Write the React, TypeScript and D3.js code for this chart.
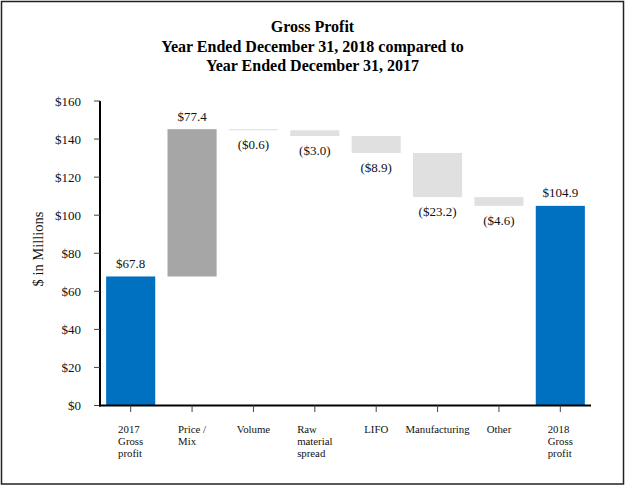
import React, { useEffect, useRef } from 'react';
import * as d3 from 'd3';

// categories (multi-line tick labels) and the step of each bar
const categories: string[][] = [
  ['2017', 'Gross', 'profit'],
  ['Price /', 'Mix'],
  ['Volume'],
  ['Raw', 'material', 'spread'],
  ['LIFO'],
  ['Manufacturing'],
  ['Other'],
  ['2018', 'Gross', 'profit'],
];
const changes: number[] = [67.8, 77.4, -0.6, -3.0, -8.9, -23.2, -4.6, 104.9];
const kinds: string[] = ['total', 'step', 'step', 'step', 'step', 'step', 'step', 'total'];
const valueLabels: string[] = ['$67.8', '$77.4', '($0.6)', '($3.0)', '($8.9)', '($23.2)', '($4.6)', '$104.9'];
const yTicks: number[] = [0, 20, 40, 60, 80, 100, 120, 140, 160];
const titleLines: string[] = [
  'Gross Profit',
  'Year Ended December 31, 2018 compared to',
  'Year Ended December 31, 2017',
];

const FONT = '"Liberation Serif", "Times New Roman", serif';

const App: React.FC = () => {
  const svgRef = useRef<SVGSVGElement>(null);

  useEffect(() => {
    if (!svgRef.current) return;
    const svg = d3.select(svgRef.current);
    svg.selectAll('*').remove();

    const width = 626;
    const height = 486;

    // running totals for the waterfall
    let running = 0;
    const bars = changes.map((v, i) => {
      let lo: number, hi: number;
      if (kinds[i] === 'total') {
        lo = 0;
        hi = v;
        running = v;
      } else {
        const next = running + v;
        lo = Math.min(running, next);
        hi = Math.max(running, next);
        running = next;
      }
      return { i, v, lo, hi, kind: kinds[i], label: valueLabels[i] };
    });

    const x = d3.scaleBand<number>()
      .domain(d3.range(categories.length))
      .range([100, 591])
      .paddingInner(0.2)
      .paddingOuter(0.1);
    const y = d3.scaleLinear().domain([0, 160]).range([405.5, 101]);

    // outer frame
    svg.append('rect')
      .attr('x', 1.5).attr('y', 1.5)
      .attr('width', width - 4).attr('height', height - 3.5)
      .attr('fill', '#fff')
      .attr('stroke', '#222')
      .attr('stroke-width', 1.5);

    // title
    svg.append('g')
      .selectAll('text')
      .data(titleLines)
      .enter()
      .append('text')
      .attr('x', 312.5)
      .attr('y', (_, i) => 32 + i * 19.6)
      .attr('text-anchor', 'middle')
      .attr('font-family', FONT)
      .attr('font-size', 16)
      .attr('font-weight', 'bold')
      .attr('fill', '#000')
      .text(d => d);

    // bars
    const colorOf = (b: { kind: string; v: number }) =>
      b.kind === 'total' ? '#0070C0' : b.v > 0 ? '#A6A6A6' : '#E0E0E0';

    svg.append('g')
      .selectAll('rect')
      .data(bars)
      .enter()
      .append('rect')
      .attr('x', d => x(d.i)!)
      .attr('width', x.bandwidth())
      .attr('y', d => y(d.hi))
      .attr('height', d => Math.max(1, y(d.lo) - y(d.hi)))
      .attr('fill', d => colorOf(d));

    // value labels: positives above, negatives below
    svg.append('g')
      .selectAll('text')
      .data(bars)
      .enter()
      .append('text')
      .attr('x', d => x(d.i)! + x.bandwidth() / 2)
      .attr('y', d => (d.v >= 0 ? y(d.hi) - 8.5 : y(d.lo) + 19))
      .attr('text-anchor', 'middle')
      .attr('font-family', FONT)
      .attr('font-size', 13)
      .attr('fill', '#111')
      .text(d => d.label);

    // y axis
    const yAxis = svg.append('g');
    yAxis.append('line')
      .attr('x1', 100).attr('x2', 100)
      .attr('y1', y(160)).attr('y2', y(0) + 1)
      .attr('stroke', '#000').attr('stroke-width', 2);
    yAxis.selectAll('line.tick')
      .data(yTicks)
      .enter()
      .append('line')
      .attr('class', 'tick')
      .attr('x1', 94).attr('x2', 100)
      .attr('y1', d => y(d)).attr('y2', d => y(d))
      .attr('stroke', '#444').attr('stroke-width', 1);
    yAxis.selectAll('text')
      .data(yTicks)
      .enter()
      .append('text')
      .attr('x', 81)
      .attr('y', d => y(d) + 4.5)
      .attr('text-anchor', 'end')
      .attr('font-family', FONT)
      .attr('font-size', 13)
      .attr('fill', '#111')
      .text(d => `$${d}`);

    svg.append('text')
      .attr('transform', `translate(43,249) rotate(-90)`)
      .attr('text-anchor', 'middle')
      .attr('font-family', FONT)
      .attr('font-size', 14.5)
      .attr('fill', '#111')
      .text('$ in Millions');

    // x axis
    const xAxis = svg.append('g');
    xAxis.append('line')
      .attr('x1', 99).attr('x2', 591)
      .attr('y1', y(0)).attr('y2', y(0))
      .attr('stroke', '#000').attr('stroke-width', 2);
    xAxis.selectAll('line.tick')
      .data(d3.range(categories.length))
      .enter()
      .append('line')
      .attr('class', 'tick')
      .attr('x1', d => x(d)! + x.bandwidth() / 2)
      .attr('x2', d => x(d)! + x.bandwidth() / 2)
      .attr('y1', y(0)).attr('y2', y(0) + 6.5)
      .attr('stroke', '#444').attr('stroke-width', 1);

    // category labels: left-aligned blocks centred on the tick
    categories.forEach((lines, i) => {
      const cx = x(i)! + x.bandwidth() / 2;
      const g = xAxis.append('g');
      const texts = g.selectAll('text')
        .data(lines)
        .enter()
        .append('text')
        .attr('y', (_, j) => 432.7 + j * 12)
        .attr('font-family', FONT)
        .attr('font-size', 10.8)
        .attr('fill', '#111')
        .text(d => d);
      let maxW = 0;
      texts.each(function () {
        maxW = Math.max(maxW, (this as SVGTextElement).getComputedTextLength());
      });
      texts.attr('x', cx - maxW / 2);
    });
  }, []);

  return (
    <div style={{ position: 'fixed', left: 0, top: 0 }}>
      <svg ref={svgRef} width={626} height={486} style={{ display: 'block' }}></svg>
    </div>
  );
};

export default App;
